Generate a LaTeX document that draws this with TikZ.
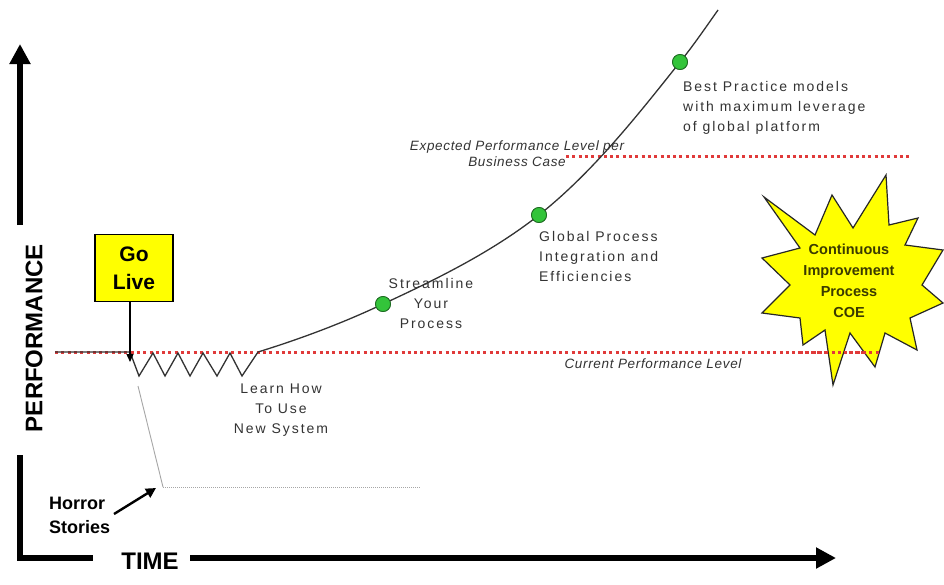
\documentclass[tikz,border=0pt]{standalone}
\usepackage{fontspec}
\setmainfont{Liberation Sans}
\newfontfamily\spaced[LetterSpace=14]{Liberation Sans}
\newfontfamily\slight[LetterSpace=5]{Liberation Sans}
\usetikzlibrary{arrows.meta}
\definecolor{ink}{HTML}{333333}
\definecolor{lvlred}{HTML}{E03A3A}
\definecolor{dotgreen}{HTML}{33C43A}
\definecolor{dotrim}{HTML}{1E6B22}
\definecolor{olive}{HTML}{3A3A00}
\definecolor{yel}{HTML}{FFFF00}
\begin{document}
\begin{tikzpicture}[x=1pt,y=-1pt,
  axis/.style={line width=5.5pt},
  axisarrow/.style={axis,-{Triangle[length=20pt,width=20pt]}},
  level/.style={lvlred,line width=3pt,dash pattern=on 3pt off 3.3pt},
  perf/.style={ink,line width=1.3pt},
  milestone/.style={circle,draw=dotrim,line width=0.8pt,fill=dotgreen,minimum size=15pt,inner sep=0pt},
  note/.style={text=ink,inner sep=0pt,font={\spaced\fontsize{14}{20}\selectfont}},
  levelnote/.style={text=ink,inner sep=0pt,font={\slight\itshape\fontsize{13.5}{16}\selectfont}},
  bigbold/.style={inner sep=0pt,font={\bfseries\fontsize{24}{28}\selectfont}},
  golive/.style={draw,line width=1.4pt,fill=yel,minimum width=78pt,minimum height=67pt,
    align=center,inner sep=0pt,font={\bfseries\fontsize{21}{28}\selectfont}},
  horror/.style={align=left,inner sep=0pt,font={\bfseries\fontsize{18}{24}\selectfont}},
  burst/.style={draw=black!85,line width=1.2pt,fill=yel,line join=miter},
]
\useasboundingbox (0,0) rectangle (944,584);
\fill[white] (0,0) rectangle (944,584);

% ---- axes ----
\coordinate (ytop) at (20,44);
\coordinate (ybreak) at (20,225);
\coordinate (ylow) at (20,455);
\coordinate (origin) at (20,558);
\coordinate (xbreak) at (93,558);
\coordinate (xresume) at (190,558);
\coordinate (xtip) at (836,558);
\draw[axisarrow] (ybreak) -- (ytop);
\draw[axis,line join=miter] (ylow) -- (origin) -- (xbreak);
\draw[axisarrow] (xresume) -- (xtip);
\node[bigbold,rotate=90] (perflabel) at (34,338) {PERFORMANCE};
\node[bigbold] (timelabel) at (150,561) {TIME};

% ---- performance levels ----
\coordinate (cur-start) at (55,352);
\coordinate (cur-end) at (880,352);
\coordinate (exp-start) at (566,156);
\coordinate (exp-end) at (910,156);
\draw[level] (exp-start) -- (exp-end);
\draw[level] (cur-start) -- (cur-end);

% ---- horror-stories drop ----
\coordinate (drop-top) at (138,386);
\coordinate (drop-bottom) at (163,487);
\coordinate (drop-end) at (421,487);
\draw[gray!70,line width=0.9pt] (drop-top) -- (drop-bottom);
\draw[gray!70,line width=1pt,dash pattern=on 1pt off 1pt] (drop-bottom) -- (drop-end);

% ---- performance curve ----
\coordinate (p0) at (55,352);
\coordinate (golivept) at (130,352);
\coordinate (learnend) at (258,352);
\coordinate (curvetop) at (718,10);
\node[milestone] (d1) at (383,304) {};
\node[milestone] (d2) at (539,215) {};
\node[milestone] (d3) at (680,62) {};
\draw[perf,line join=miter] (p0) -- (golivept)
  -- (139,376) -- (153,353) -- (165,376) -- (178,353) -- (190,376)
  -- (203,353) -- (217,376) -- (230,353) -- (242,376) -- (learnend);
\draw[perf] (learnend) .. controls (300,339) and (343,323) .. (d1.center)
  .. controls (437,279) and (492,252) .. (d2.center)
  .. controls (593,172) and (637,116) .. (d3.center)
  .. controls (693,46) and (706,27) .. (curvetop);
\node[milestone] at (d1) {};
\node[milestone] at (d2) {};
\node[milestone] at (d3) {};

% ---- labels along the curve ----
\node[note,anchor=west,align=left] (bestnote) at (683,108)
  {Best Practice models\\with maximum leverage\\of global platform};
\node[note,anchor=west,align=left] (globalnote) at (539,256)
  {Global Process\\Integration and\\Efficiencies};
\node[note,align=center] (streamnote) at (431,303) {Streamline\\Your\\Process};
\node[note,align=center] (learnnote) at (281,410) {Learn How\\To Use\\New System};
\node[levelnote,align=center] (expnote) at (517,154)
  {Expected Performance Level per\\Business Case};
\node[levelnote] (curnote) at (653,364) {Current Performance Level};

% ---- go live ----
\node[golive] (gobox) at (134,268) {Go\\Live};
\draw[line width=1.3pt,-{Triangle[length=8pt,width=7pt]}] (gobox.south -| golivept) -- ([yshift=-10pt]golivept);

% ---- horror stories ----
\node[horror,anchor=west] (horrornote) at (49,515) {Horror\\Stories};
\coordinate (horrortip) at (156,488);
\draw[line width=2.4pt,-{Triangle[length=10pt,width=10pt]}] (114,514) -- (horrortip);

% ---- continuous improvement burst ----
\draw[burst] (764,197) -- (815,235) -- (832,195) -- (853,228) -- (886,175)
  -- (889,225) -- (918,218) -- (905,245) -- (943,250) -- (922,285)
  -- (943,303) -- (910,318) -- (917,350) -- (885,333) -- (875,367)
  -- (850,333) -- (833,385) -- (825,330) -- (803,345) -- (800,318)
  -- (762,313) -- (790,285) -- (762,258) -- (800,248) -- cycle;
\draw[level] (800,352) -- (cur-end);
\node[align=center,text=olive,inner sep=0pt,font={\bfseries\fontsize{14.5}{21}\selectfont}]
  (coe) at (849,281) {Continuous\\Improvement\\Process\\COE};
\end{tikzpicture}
\end{document}
